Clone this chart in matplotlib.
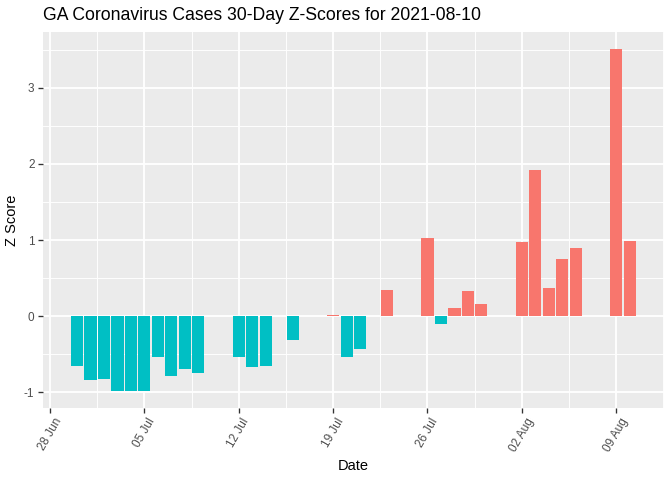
import matplotlib
matplotlib.use("Agg")
import matplotlib.pyplot as plt
import matplotlib.dates as mdates
import numpy as np
import pandas as pd

dates = ["2021-06-30", "2021-07-01", "2021-07-02", "2021-07-03", "2021-07-04",
         "2021-07-05", "2021-07-06", "2021-07-07", "2021-07-08", "2021-07-09",
         "2021-07-12", "2021-07-13", "2021-07-14", "2021-07-16", "2021-07-19",
         "2021-07-20", "2021-07-21", "2021-07-23", "2021-07-26", "2021-07-27",
         "2021-07-28", "2021-07-29", "2021-07-30", "2021-08-02", "2021-08-03",
         "2021-08-04", "2021-08-05", "2021-08-06", "2021-08-09", "2021-08-10"]
z_scores = [-0.66, -0.84, -0.83, -0.98, -0.98,
            -0.98, -0.54, -0.79, -0.70, -0.75,
            -0.54, -0.67, -0.66, -0.31, 0.01,
            -0.54, -0.43, 0.34, 1.03, -0.10,
            0.105, 0.33, 0.16, 0.97, 1.92,
            0.37, 0.75, 0.89, 3.51, 0.99]
title = "GA Coronavirus Cases 30-Day Z-Scores for 2021-08-10"
x_label = "Date"
y_label = "Z Score"
y_ticks = [-1, 0, 1, 2, 3]
x_breaks = ["2021-06-28", "2021-07-05", "2021-07-12", "2021-07-19",
            "2021-07-26", "2021-08-02", "2021-08-09"]

POS = "#F8766D"
NEG = "#00BFC4"

plt.rcParams['font.family'] = ['Liberation Sans', 'DejaVu Sans']

fig = plt.figure(figsize=(7, 5), dpi=96)
ax = fig.add_axes([42.7 / 672, 1 - 407.7 / 480, (664 - 42.7) / 672, (407.7 - 32) / 480])
ax.set_facecolor("#EBEBEB")

x = mdates.date2num(pd.to_datetime(dates))
z = np.array(z_scores)
colors = [POS if v > 0 else NEG for v in z]
bw = 0.9

# limits with ggplot-like 5% expansion
xmin, xmax = x.min() - bw / 2, x.max() + bw / 2
dx = (xmax - xmin) * 0.05
ax.set_xlim(xmin - dx, xmax + dx)
ymin, ymax = min(z.min(), 0), max(z.max(), 0)
dy = (ymax - ymin) * 0.05
ax.set_ylim(ymin - dy, ymax + dy)

xb = mdates.date2num(pd.to_datetime(x_breaks))
minor_x = (xb[:-1] + xb[1:]) / 2
minor_x = np.concatenate([[xb[0] - 3.5], minor_x, [xb[-1] + 3.5]])
minor_y = [-0.5, 0.5, 1.5, 2.5, 3.5]

for m in minor_x:
    ax.axvline(m, color="white", lw=0.7, zorder=0.5)
for m in minor_y:
    ax.axhline(m, color="white", lw=0.7, zorder=0.5)
for m in xb:
    ax.axvline(m, color="white", lw=1.4, zorder=0.6)
for m in y_ticks:
    ax.axhline(m, color="white", lw=1.4, zorder=0.6)

ax.bar(x, z, width=bw, color=colors, zorder=2, linewidth=0)

ax.set_xticks(xb)
ax.set_xticklabels([pd.to_datetime(d).strftime("%d %b") for d in x_breaks],
                   rotation=60, ha="center", va="top")
ax.set_yticks(y_ticks)
ax.set_yticklabels([str(t) for t in y_ticks])
ax.tick_params(axis="both", which="major", length=3.67, width=1.0, color="#333333",
               labelcolor="#4D4D4D", labelsize=8.8, pad=2.5)
for s in ax.spines.values():
    s.set_visible(False)

ax.set_xlabel(x_label, fontsize=11, color="black", labelpad=4)
ax.set_ylabel(y_label, fontsize=11, color="black", labelpad=4)
fig.text(43.3 / 672, 1 - 16 / 480, title, fontsize=13.2, color="black", ha="left", va="center")

fig.savefig("out.png", dpi=96)
